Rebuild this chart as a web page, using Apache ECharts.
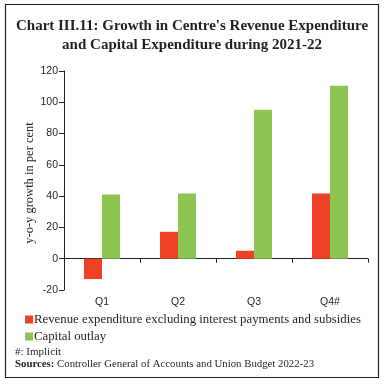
<!DOCTYPE html>
<html><head><meta charset="utf-8">
<script src="https://cdn.jsdelivr.net/npm/echarts@6/dist/echarts.min.js"></script>
<style>html,body{margin:0;padding:0;background:#fff}#c{width:384px;height:386px}</style>
</head><body><div id="c"></div>
<script>
const categories = ['Q1', 'Q2', 'Q3', 'Q4#'];
const revenueExp = [-13, 17.2, 5.1, 41.7];
const capitalOutlay = [41.0, 41.7, 95.3, 110.6];
const yTicks = [-20, 0, 20, 40, 60, 80, 100, 120];
const seriesNames = ['Revenue expenditure excluding interest payments and subsidies', 'Capital outlay'];
const titleLines = ["Chart III.11: Growth in Centre's Revenue Expenditure", 'and Capital Expenditure during 2021-22'];
const yName = 'y-o-y growth in per cent';
const note = '#: Implicit';
const sourceLabel = 'Sources:';
const sourceText = ' Controller General of Accounts and Union Budget 2022-23';

const txt = '#231F20';
const chart = echarts.init(document.getElementById('c'), null, {renderer: 'canvas'});
chart.setOption({
  animation: false,
  backgroundColor: '#fff',
  title: {
    text: titleLines.join('\n'),
    left: 'center', top: 12,
    textStyle: {fontFamily: 'Liberation Serif', fontWeight: 'bold', fontSize: 15, lineHeight: 19, color: txt}
  },
  legend: {
    orient: 'vertical', left: 20, top: 308,
    itemWidth: 8, itemHeight: 8, itemGap: 4,
    icon: 'rect',
    textStyle: {fontFamily: 'Liberation Serif', fontSize: 12.8, color: txt, padding: [0, 0, 0, -4]},
    data: seriesNames
  },
  grid: {left: 64, right: 16, top: 71, bottom: 96, containLabel: false},
  xAxis: {
    type: 'category', data: categories,
    axisLine: {onZero: true, lineStyle: {color: '#231F20', width: 1}},
    axisTick: {show: true, length: 4, lineStyle: {color: '#231F20'}},
    axisLabel: {margin: 7, fontFamily: 'Liberation Sans', fontSize: 10.5, color: txt},
    splitLine: {show: false}
  },
  yAxis: {
    type: 'value', min: yTicks[0], max: yTicks[yTicks.length - 1], interval: 20,
    axisLine: {show: true, lineStyle: {color: '#231F20', width: 1}},
    axisTick: {show: true, length: 5, lineStyle: {color: '#231F20'}},
    axisLabel: {margin: 6, fontFamily: 'Liberation Sans', fontSize: 10.5, color: txt},
    splitLine: {show: false}
  },
  series: [
    {name: seriesNames[0], type: 'bar', data: revenueExp, barWidth: 18, barGap: '0%',
     itemStyle: {color: '#EE4125'}},
    {name: seriesNames[1], type: 'bar', data: capitalOutlay, barWidth: 18,
     itemStyle: {color: '#8BC652'}}
  ],
  graphic: [
    {type: 'rect', shape: {x: 5.5, y: 4.5, width: 373, height: 373}, style: {fill: 'none', stroke: '#231F20', lineWidth: 1.2}, silent: true},
    {type: 'text', x: 30, y: 183, rotation: Math.PI / 2, style: {text: yName, font: '12.5px "Liberation Serif"', fill: txt, align: 'center', verticalAlign: 'middle'}},
    {type: 'text', left: 15, top: 347, style: {text: note, font: '11px "Liberation Serif"', fill: txt}},
    {type: 'text', left: 15, top: 359, style: {
      text: '{b|' + sourceLabel + '}{n|' + sourceText + '}',
      rich: {b: {fontFamily: 'Liberation Serif', fontWeight: 'bold', fontSize: 10.8, fill: txt, color: txt},
             n: {fontFamily: 'Liberation Serif', fontSize: 10.8, fill: txt, color: txt}}
    }}
  ]
});
</script></body></html>
